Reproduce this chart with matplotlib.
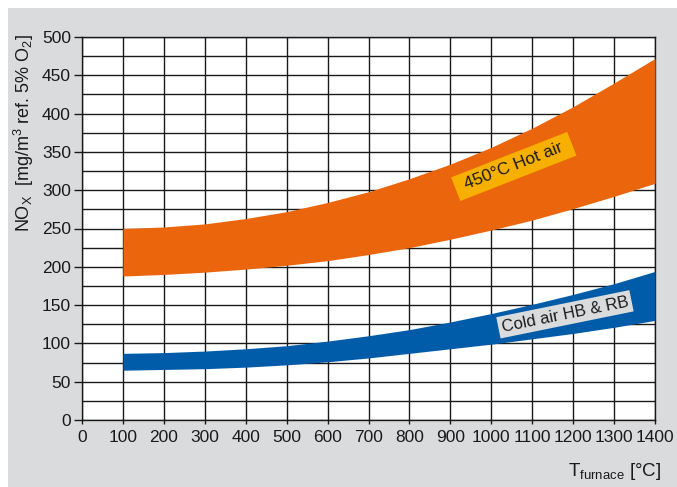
import numpy as np
import matplotlib
matplotlib.use('Agg')
import matplotlib.pyplot as plt
from matplotlib.patches import Rectangle
from matplotlib.ticker import MultipleLocator

plt.rcParams['font.family'] = ['Liberation Sans', 'DejaVu Sans']

# Furnace temperature [C]
temp = [100, 200, 300, 400, 500, 600, 700, 800, 900, 1000, 1100, 1200, 1300, 1400]

# 450 C hot air band (upper / lower edge)
hot_top = [250, 252, 256, 263, 272, 284, 298, 315, 334, 356, 381, 409, 440, 472]
hot_bot = [188, 190, 193, 197, 202, 208, 216, 225, 236, 248, 261, 276, 292, 309]

# Cold air band
cold_top = [87, 88, 90, 93, 97, 103, 110, 118, 128, 139, 151, 164, 178, 194]
cold_bot = [65, 66, 67, 69, 72, 76, 81, 87, 93, 99, 106, 113, 121, 130]

orange = '#EA650B'
blue = '#005CA9'
bg = '#DADBDC'
ink = '#1a1a1a'

fig = plt.figure(figsize=(6.77, 4.87), dpi=100)
fig.patches.append(Rectangle((8/677, 0), 1, 1 - 8/487, transform=fig.transFigure,
                             facecolor=bg, edgecolor='none', zorder=-10))

ax = fig.add_axes([82/677, 67/487, 573/677, 383/487])
ax.set_facecolor('white')
ax.set_xlim(0, 1400)
ax.set_ylim(0, 500)
ax.xaxis.set_major_locator(MultipleLocator(100))
ax.yaxis.set_major_locator(MultipleLocator(50))
ax.yaxis.set_minor_locator(MultipleLocator(25))
ax.grid(True, which='both', color=ink, linewidth=1.0, zorder=0)
ax.set_axisbelow(True)
for s in ax.spines.values():
    s.set_color(ink)
    s.set_linewidth(1.0)
ax.tick_params(axis='y', which='major', length=6, width=1.0, labelsize=12.5, pad=2, colors=ink)
ax.tick_params(axis='y', which='minor', length=0)
ax.tick_params(axis='x', length=3, width=1.0, labelsize=12.5, pad=4, colors=ink)

ax.fill_between(temp, hot_bot, hot_top, color=orange, linewidth=0, zorder=3)
ax.fill_between(temp, cold_bot, cold_top, color=blue, linewidth=0, zorder=3)

ax.text(1055, 331, ' 450°C Hot air ', rotation=21.4, fontsize=12.5, ha='center', va='center',
        color=ink, zorder=5, rotation_mode='anchor',
        bbox=dict(boxstyle='square,pad=0.3', facecolor='#F7B000', edgecolor='none'))
ax.text(1180, 138, 'Cold air HB & RB', rotation=11.5, fontsize=12, ha='center', va='center',
        color=ink, zorder=5, rotation_mode='anchor',
        bbox=dict(boxstyle='square,pad=0.2', facecolor=bg, edgecolor='none'))

fig.text(24/677, 1 - 133/487, r'NO$_\mathregular{X}$  [mg/m$^\mathregular{3}$ ref. 5% O$_\mathregular{2}$]',
         rotation=90, fontsize=13, ha='center', va='center', color=ink)
fig.text(661/677, 1 - 471/487, r'T$_\mathregular{furnace}$ [°C]', fontsize=13.5,
         ha='right', va='center', color=ink)

fig.savefig('out.png', dpi=100)
